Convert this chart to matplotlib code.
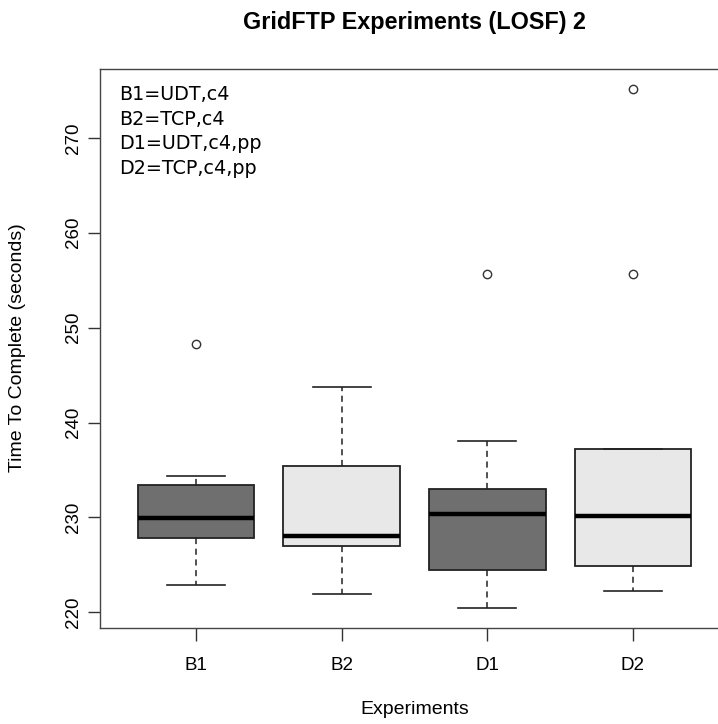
import numpy as np
import matplotlib
matplotlib.use("Agg")
import matplotlib.pyplot as plt

# summary stats
labels = ["B1", "B2", "D1", "D2"]
whislo = [222.9, 221.9, 220.5, 222.3]
q1 = [227.8, 227.0, 224.5, 224.9]
med = [229.9, 228.0, 230.4, 230.2]
q3 = [233.4, 235.4, 233.0, 237.2]
whishi = [234.4, 243.7, 238.1, 237.2]
fliers = [[248.3], [], [255.7], [255.7, 275.1]]
box_cols = ["#6f6f6f", "#e8e8e8", "#6f6f6f", "#e8e8e8"]

legend_lines = ["B1=UDT,c4", "B2=TCP,c4", "D1=UDT,c4,pp", "D2=TCP,c4,pp"]

plt.rcParams['font.family'] = ['Liberation Sans', 'DejaVu Sans']

fig = plt.figure(figsize=(7.18, 7.24), dpi=100)
ax = fig.add_axes([100/718, (724-628)/724, 629/718, 559/724])

stats = []
for i in range(len(labels)):
    stats.append(dict(label=labels[i], whislo=whislo[i], q1=q1[i], med=med[i],
                      q3=q3[i], whishi=whishi[i], fliers=fliers[i]))

bp = ax.bxp(stats, positions=[1, 2, 3, 4], widths=0.8, patch_artist=True,
            showfliers=True,
            boxprops=dict(edgecolor="#222222", linewidth=1.3),
            medianprops=dict(color="black", linewidth=3.2, solid_capstyle="butt"),
            whiskerprops=dict(color="#222222", linewidth=1.1, linestyle=(0, (4, 3))),
            capprops=dict(color="#222222", linewidth=1.2),
            capwidths=0.4,
            flierprops=dict(marker="o", markersize=6, markerfacecolor="none",
                            markeredgecolor="#333333", markeredgewidth=1.0))
for patch, c in zip(bp["boxes"], box_cols):
    patch.set_facecolor(c)

ax.set_xlim(0.34, 4.66)
ax.set_ylim(218.35, 277.25)
ax.set_yticks([220, 230, 240, 250, 260, 270])
ax.set_xticks([1, 2, 3, 4])
ax.set_xticklabels(labels)
ax.tick_params(axis="both", length=9, width=1, color="#333333", labelsize=13.5)
ax.tick_params(axis="x", pad=12)
ax.tick_params(axis="y", pad=4)
for t in ax.get_yticklabels():
    t.set_rotation(90)
    t.set_va("center")
for s in ax.spines.values():
    s.set_color("#444444")
    s.set_linewidth(1.0)

# legend-like notes, positioned in pixels from the top-left
for i, line in enumerate(legend_lines):
    ax.text(119/718, 1 - (95 + i*24.4)/724, line, transform=fig.transFigure,
            fontsize=13.8, family="DejaVu Sans", va="center", ha="left")

fig.text(414.5/718, 1 - 22/724, "GridFTP Experiments (LOSF) 2", ha="center",
         va="center", fontsize=16.8, fontweight="bold")
fig.text(414.5/718, 1 - 709/724, "Experiments", ha="center", va="center", fontsize=14)
fig.text(18/718, 1 - 348/724, "Time To Complete (seconds)", ha="center", va="center",
         rotation=90, fontsize=14)

fig.savefig("out.png", dpi=100)
